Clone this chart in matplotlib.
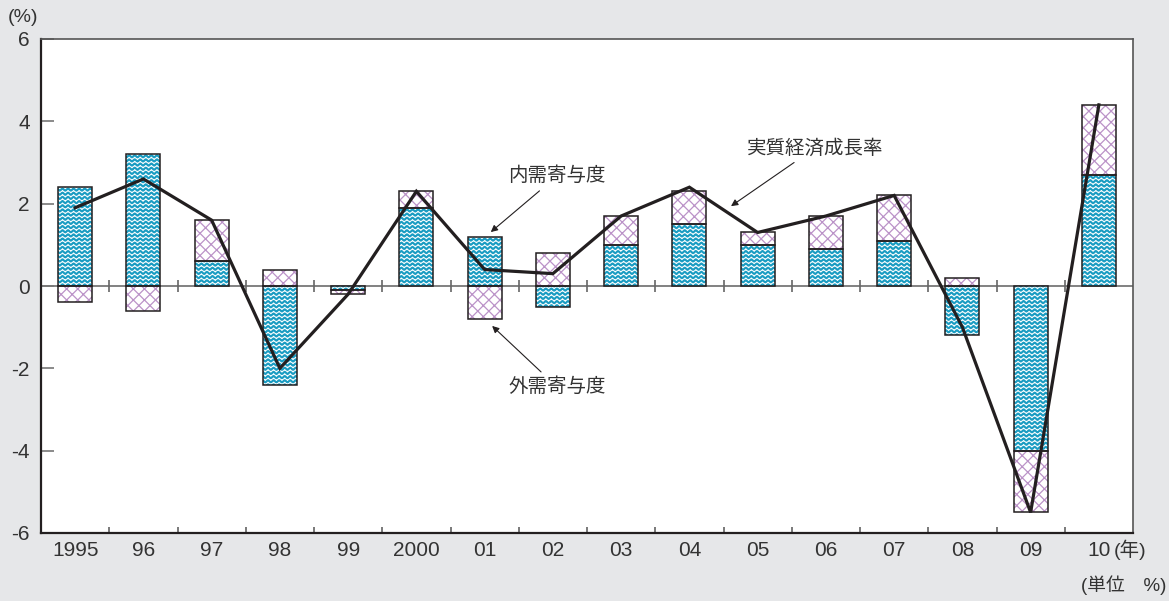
import warnings
import numpy as np
import matplotlib
matplotlib.use("Agg")
import matplotlib.pyplot as plt
import matplotlib.hatch as mhatch
from matplotlib.path import Path

warnings.filterwarnings("ignore")

years = ["1995", "96", "97", "98", "99", "2000", "01", "02",
         "03", "04", "05", "06", "07", "08", "09", "10"]
domestic = [2.4, 3.2, 0.6, -2.4, -0.1, 1.9, 1.2, -0.5,
            1.0, 1.5, 1.0, 0.9, 1.1, -1.2, -4.0, 2.7]
external = [-0.4, -0.6, 1.0, 0.4, -0.1, 0.4, -0.8, 0.8,
            0.7, 0.8, 0.3, 0.8, 1.1, 0.2, -1.5, 1.7]
growth = [1.9, 2.6, 1.6, -2.0, -0.2, 2.3, 0.4, 0.3,
          1.7, 2.4, 1.3, 1.7, 2.2, -1.0, -5.5, 4.4]


# wavy hatch for the domestic demand bars
class WaveHatch(mhatch.HatchPatternBase):
    def __init__(self, hatch, density):
        self.num_lines = int(hatch.count('~') * density)
        self.num_pts = 145
        self.num_vertices = self.num_lines * self.num_pts

    def set_vertices_and_codes(self, vertices, codes):
        ys = (np.arange(self.num_lines) + 0.5) / self.num_lines
        xs = np.linspace(0, 1, self.num_pts)
        wave = 0.25 / self.num_lines * np.sin(2 * np.pi * 18 * xs)
        for i, y in enumerate(ys):
            start = i * self.num_pts
            vertices[start:start + self.num_pts, 0] = xs
            vertices[start:start + self.num_pts, 1] = y + wave
            codes[start:start + self.num_pts] = Path.LINETO
            codes[start] = Path.MOVETO


mhatch._hatch_types.append(WaveHatch)

plt.rcParams['font.family'] = ['Liberation Sans', 'Noto Sans CJK JP']

bg = '#e6e7e9'
blue = '#1a9cc2'
pink = '#bb93c8'
dark = '#231f20'

fig = plt.figure(figsize=(11.69, 6.01), dpi=100, facecolor=bg)
ax = fig.add_axes([41 / 1169, 1 - 533 / 601, 1092 / 1169, 494 / 601])
ax.set_facecolor('white')

x = np.arange(len(years))
dom = np.array(domestic)
ext = np.array(external)
ext_bottom = np.where(np.sign(dom) == np.sign(ext), dom, 0)
w = 0.5

ax.axhline(0, color='#777777', lw=1.3, zorder=1)

plt.rcParams['hatch.linewidth'] = 1.5
ax.bar(x, dom, w, color='white', edgecolor=blue, hatch='~~~~', lw=0, zorder=2)
plt.rcParams['hatch.linewidth'] = 0.9
ax.bar(x, ext, w, bottom=ext_bottom, color='white', edgecolor=pink,
       hatch='xxx', lw=0, zorder=2)
ax.bar(x, dom, w, fill=False, edgecolor=dark, lw=1.1, zorder=3)
ax.bar(x, ext, w, bottom=ext_bottom, fill=False, edgecolor=dark, lw=1.1, zorder=3)

ax.plot(x, growth, color=dark, lw=2.3, zorder=4, solid_joinstyle='miter')

bounds = np.arange(len(years) - 1) + 0.5
ax.plot(bounds, np.zeros(len(bounds)), ls='none', marker='|', ms=9,
        mew=1.2, color='#666666', zorder=1)

ax.set_xlim(-0.5, len(years) - 0.5)
ax.set_ylim(-6, 6)
ax.set_yticks([-6, -4, -2, 0, 2, 4, 6])
ax.set_yticklabels(['-6', '-4', '-2', '0', '2', '4', '6'], fontsize=15,
                   color='#333333')
ax.tick_params(axis='y', direction='in', length=9.5, width=1.2,
               color='#777777', pad=8)
ax.set_xticks(x)
ax.set_xticklabels(years, fontsize=15, color='#333333')
ax.set_xticks(bounds, minor=True)
ax.tick_params(axis='x', which='major', length=0, pad=6)
ax.tick_params(axis='x', which='minor', direction='in', length=4.5,
               width=1.1, color='#555555')

for s in ax.spines.values():
    s.set_color('#555555')
    s.set_linewidth(1.2)
ax.spines['left'].set_color(dark)
ax.spines['bottom'].set_color(dark)
ax.spines['left'].set_linewidth(1.6)
ax.spines['bottom'].set_linewidth(1.6)

ax.text(0.982, -0.033, '(年)', transform=ax.transAxes, fontsize=14,
        ha='left', va='center', color='#333333')
fig.text(8 / 1169, 1 - 17 / 601, '(%)', fontsize=14, ha='left',
         va='center', color='#333333')
fig.text(1166 / 1169, 1 - 585 / 601, '(単位　%)', fontsize=13.5, ha='right',
         va='center', color='#333333')

arrow = dict(arrowstyle='-|>', color=dark, lw=0.8, mutation_scale=10,
             shrinkA=3, shrinkB=0)
ax.annotate('内需寄与度', xy=(6.09, 1.31), xytext=(7.06, 2.67), fontsize=14,
            ha='center', va='center', color='#333333', arrowprops=arrow)
ax.annotate('外需寄与度', xy=(6.11, -0.97), xytext=(7.06, -2.45), fontsize=14,
            ha='center', va='center', color='#333333', arrowprops=arrow)
ax.annotate('実質経済成長率', xy=(9.61, 1.94), xytext=(10.84, 3.35), fontsize=14,
            ha='center', va='center', color='#333333', arrowprops=arrow)

fig.savefig('out.png', dpi=100, facecolor=bg)
